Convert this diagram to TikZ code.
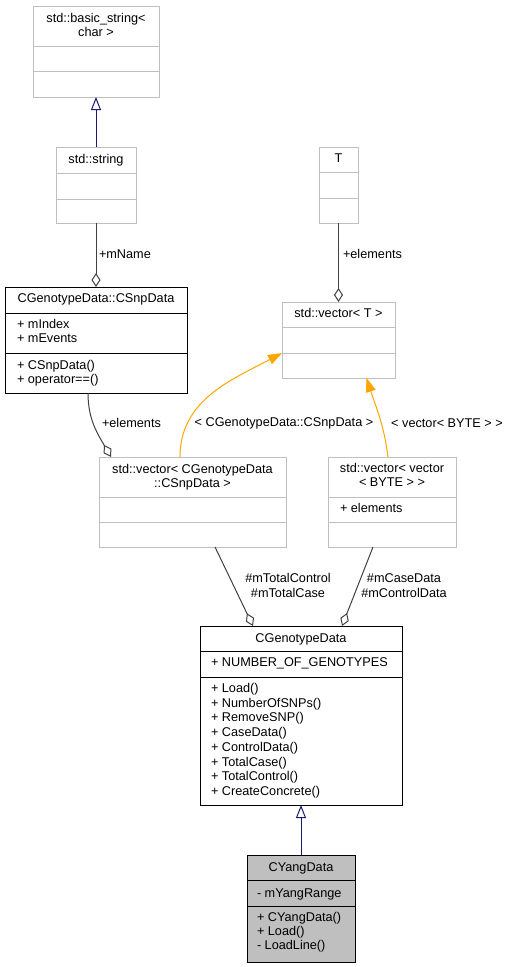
\documentclass[tikz,border=0pt]{standalone}
\usepackage{fontspec}
\setmainfont{Liberation Sans}
\usetikzlibrary{arrows.meta}
\definecolor{grey75}{HTML}{BFBFBF}
\definecolor{grey25}{HTML}{404040}
\definecolor{navyline}{HTML}{191970}
\definecolor{tplorange}{HTML}{FFA500}

\begin{document}
\begin{tikzpicture}[
  x=1pt, y=-1pt,
  every node/.style={font=\fontsize{12.7}{14.5}\selectfont, inner sep=0pt, outer sep=0pt},
  cls/.style={draw=grey75, fill=white, line width=1pt, anchor=north west},
  doccls/.style={cls, draw=black},
  sep/.style={line width=1pt},
  title/.style={anchor=base},
  member/.style={anchor=base west},
  inherit/.style={draw=navyline, line width=1pt, -{Triangle[open, length=13pt, width=10pt]}},
  aggr/.style={draw=grey25, line width=1pt, -{Diamond[open, length=14pt, width=9pt]}},
  tmpl/.style={draw=tplorange, line width=1pt, -{Triangle[length=14pt, width=10pt]}},
]
  \useasboundingbox (0,0) rectangle (512,967);

  % classes
  \node[cls, minimum width=126, minimum height=91] (basic) at (33,6) {};
  \draw[sep, grey75] (33,46) -- (159,46) (33,71) -- (159,71);
  \node[title] (basic-t1) at (96,22.5) {std::basic\_string<};
  \node[title] (basic-t2) at (96,36.5) {char >};

  \node[cls, minimum width=80, minimum height=76] (string) at (56,147) {};
  \draw[sep, grey75] (56,173) -- (136,173) (56,199) -- (136,199);
  \node[title] (string-t) at (96,163.5) {std::string};

  \node[doccls, minimum width=182, minimum height=106] (csnp) at (5,287) {};
  \draw[sep] (5,313) -- (187,313) (5,353) -- (187,353);
  \node[title] (csnp-t) at (96,302.5) {CGenotypeData::CSnpData};
  \foreach \m [count=\i] in {+ mIndex, + mEvents}
    \node[member] (csnp-a\i) at (17,{328.5+(\i-1)*14}) {\m};
  \foreach \m [count=\i] in {+ CSnpData(), + operator==()}
    \node[member] (csnp-m\i) at (17,{369.5+(\i-1)*14}) {\m};

  \node[cls, minimum width=39, minimum height=76] (T) at (319,147) {};
  \draw[sep, grey75] (319,172) -- (358,172) (319,198) -- (358,198);
  \node[title] (T-t) at (338.5,162.5) {T};

  \node[cls, minimum width=113, minimum height=76] (vecT) at (282,302) {};
  \draw[sep, grey75] (282,327) -- (395,327) (282,353) -- (395,353);
  \node[title] (vecT-t) at (338.5,317.5) {std::vector< T >};

  \node[cls, minimum width=187, minimum height=90] (vecsnp) at (99,457) {};
  \draw[sep, grey75] (99,497) -- (286,497) (99,522) -- (286,522);
  \node[title] (vecsnp-t1) at (192.5,473.5) {std::vector< CGenotypeData};
  \node[title] (vecsnp-t2) at (192.5,487) {::CSnpData >};

  \node[cls, minimum width=128, minimum height=90] (vecvec) at (328,457) {};
  \draw[sep, grey75] (328,497) -- (456,497) (328,522) -- (456,522);
  \node[title] (vecvec-t1) at (392,472.5) {std::vector< vector};
  \node[title] (vecvec-t2) at (392,486.5) {< BYTE > >};
  \node[member] (vecvec-a1) at (340,512.5) {+ elements};

  \node[doccls, minimum width=202, minimum height=179] (geno) at (200,626) {};
  \draw[sep] (200,651) -- (402,651) (200,677) -- (402,677);
  \node[title] (geno-t) at (301,642.5) {CGenotypeData};
  \node[member] (geno-a1) at (211,666.5) {+ NUMBER\_OF\_GENOTYPES};
  \foreach \m [count=\i] in {+ Load(), + NumberOfSNPs(), + RemoveSNP(), + CaseData(),
      + ControlData(), + TotalCase(), + TotalControl(), + CreateConcrete()}
    \node[member] (geno-m\i) at (211,{692.5+(\i-1)*14.7}) {\m};

  \node[doccls, fill=grey75, minimum width=108, minimum height=107] (yang) at (247,855) {};
  \draw[sep] (247,880) -- (355,880) (247,906) -- (355,906);
  \node[title] (yang-t) at (301,871.5) {CYangData};
  \node[member] (yang-a1) at (257,897.5) {- mYangRange};
  \foreach \m [count=\i] in {+ CYangData(), + Load(), - LoadLine()}
    \node[member] (yang-m\i) at (257,{921.5+(\i-1)*14}) {\m};

  % relations
  \draw[inherit] (string) -- (basic);
  \draw[inherit] (yang) -- (geno);
  \draw[aggr] (string) -- (csnp);
  \draw[aggr] (T) -- (vecT);
  \draw[aggr] ([xshift=-8pt]csnp.south) to[out=-90, in=120] ([xshift=12pt]vecsnp.north west);
  \draw[aggr] ([xshift=22.5pt]vecsnp.south) -- ([xshift=-48pt]geno.north);
  \draw[aggr] ([xshift=-19pt]vecvec.south) -- ([xshift=41pt]geno.north);
  \draw[tmpl] ([xshift=-12.5pt]vecsnp.north) to[out=90, in=208] ([yshift=-13pt]vecT.west);
  \draw[tmpl] ([xshift=-4pt]vecvec.north) to[out=97, in=-72] ([xshift=28pt]vecT.south);

  % labels
  \node[anchor=west] (l-name) at (99,254) {+mName};
  \node[anchor=west] (l-elemT) at (343,254) {+elements};
  \node[anchor=west] (l-elem) at (102,423) {+elements};
  \node (l-tsnp) at (284,423) {< CGenotypeData::CSnpData >};
  \node (l-tbyte) at (447,423) {< vector< BYTE > >};
  \node[align=center] (l-total) at (288,585.5) {\#mTotalControl\\\#mTotalCase};
  \node[align=center] (l-data) at (404,585.5) {\#mCaseData\\\#mControlData};
\end{tikzpicture}
\end{document}
